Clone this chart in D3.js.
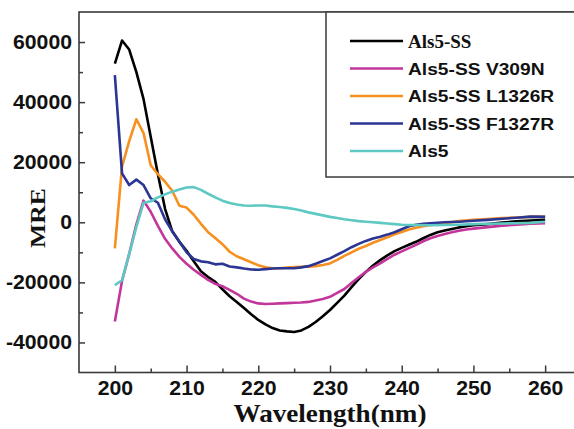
<!DOCTYPE html>
<html><head><meta charset="utf-8">
<script src="https://cdn.jsdelivr.net/npm/d3@7"></script>
<style>html,body{margin:0;padding:0;background:#fff;overflow:hidden}</style>
</head><body>
<svg id="c" width="574" height="429"></svg>
<script>
const seriesNames = ["Als5-SS","Als5-SS V309N","Als5-SS L1326R","Als5-SS F1327R","Als5"];
const seriesColors = ["#000000","#c2369c","#f7901e","#2b3594","#5ec8c3"];

const als5ss = [[200,52800],[201,60500],[202,57500],[203,50000],[204,41000],[205,28500],[206,16000],[207,4500],[208,-3000],[209,-6500],[210,-9500],[211,-13000],[212,-16300],[213,-18200],[214,-19800],[215,-22300],[216,-24600],[217,-26500],[218,-28500],[219,-30600],[220,-32500],[221,-34000],[222,-35200],[223,-36000],[224,-36300],[225,-36500],[226,-36000],[227,-34800],[228,-33200],[229,-31300],[230,-29200],[231,-26800],[232,-24400],[233,-21600],[234,-18900],[235,-16500],[236,-14400],[237,-12600],[238,-11000],[239,-9600],[240,-8500],[241,-7500],[242,-6500],[243,-5300],[244,-4200],[245,-3300],[246,-2700],[247,-2200],[248,-1700],[249,-1300],[250,-1000],[252,-600],[254,-100],[256,300],[258,600],[260,800]];
const v309n = [[200,-33000],[201,-19500],[202,-10500],[203,-700],[204,7200],[205,3500],[206,-1200],[207,-5500],[208,-8700],[209,-11500],[210,-13800],[211,-15800],[212,-17500],[213,-19200],[214,-20500],[215,-21300],[216,-22500],[217,-23800],[218,-25400],[219,-26400],[220,-27000],[221,-27200],[222,-27100],[223,-27000],[224,-26900],[225,-26800],[226,-26700],[227,-26500],[228,-26000],[229,-25500],[230,-24800],[231,-23500],[232,-22200],[233,-20200],[234,-18300],[235,-16500],[236,-15000],[237,-13700],[238,-12200],[239,-10800],[240,-9700],[241,-8600],[242,-7500],[243,-6300],[244,-5300],[245,-4600],[246,-3900],[247,-3300],[248,-2800],[249,-2400],[250,-2100],[252,-1600],[254,-1100],[256,-800],[258,-500],[260,-300]];
const l1326r = [[200,-8700],[201,18500],[202,27000],[203,34300],[204,29700],[205,19000],[206,16000],[207,13500],[208,10500],[209,5500],[210,4900],[211,2500],[212,-500],[213,-3300],[214,-5200],[215,-7300],[216,-9800],[217,-11300],[218,-12300],[219,-13300],[220,-14300],[221,-15000],[222,-15300],[223,-15300],[224,-15100],[225,-14900],[226,-14800],[227,-14800],[228,-14600],[229,-14200],[230,-13700],[231,-12500],[232,-11200],[233,-10000],[234,-8800],[235,-7900],[236,-6800],[237,-5900],[238,-5000],[239,-4000],[240,-3200],[241,-2400],[242,-1800],[243,-1300],[244,-900],[246,-300],[248,400],[250,800],[252,1100],[254,1400],[256,1600],[258,1800],[260,1900]];
const f1327r = [[200,49000],[201,16300],[202,12400],[203,14200],[204,12400],[205,8000],[206,6500],[207,1000],[208,-3000],[209,-6500],[210,-10000],[211,-12200],[212,-13000],[213,-13300],[214,-14000],[215,-13800],[216,-14700],[217,-15000],[218,-15400],[219,-15700],[220,-15800],[221,-15600],[222,-15400],[223,-15300],[224,-15300],[225,-15300],[226,-15000],[227,-14600],[228,-13800],[229,-12900],[230,-12000],[231,-10800],[232,-9600],[233,-8300],[234,-7200],[235,-6200],[236,-5400],[237,-4800],[238,-4100],[239,-3300],[240,-2300],[241,-1300],[242,-800],[243,-500],[244,-300],[246,0],[248,200],[250,500],[252,800],[254,1200],[256,1500],[258,1900],[260,1800]];
const als5 = [[200,-20900],[201,-19300],[202,-10600],[203,-1500],[204,6500],[205,7000],[206,8300],[207,9300],[208,10200],[209,10900],[210,11600],[211,11700],[212,10800],[213,9500],[214,8300],[215,7200],[216,6400],[217,5900],[218,5600],[219,5500],[220,5600],[221,5600],[222,5300],[223,5100],[224,4800],[225,4400],[226,3900],[227,3300],[228,2800],[229,2300],[230,1800],[231,1400],[232,1000],[233,700],[234,400],[235,200],[236,0],[237,-200],[238,-400],[239,-600],[240,-800],[241,-900],[242,-900],[244,-1000],[246,-900],[248,-800],[250,-600],[252,-500],[254,-400],[256,-300],[258,-200],[260,200]];
const seriesData = [als5ss, v309n, l1326r, f1327r, als5];

const xMajorTicks = [200,210,220,230,240,250,260];
const xMinorTicks = [205,215,225,235,245,255];
const yMajorTicks = [-40000,-20000,0,20000,40000,60000];
const yMinorTicks = [-30000,-10000,10000,30000,50000];

const L = 79, T = 12, R = 581, B = 372.5;
const svg = d3.select("#c");
const x = d3.scaleLinear().domain([195,265]).range([L,R]);
const y = d3.scaleLinear().domain([-50000,70000]).range([B,T]);
const sx = 1.09;

// frame
svg.append("rect").attr("x",L).attr("y",T).attr("width",R-L).attr("height",B-T)
  .attr("fill","none").attr("stroke","#3a3a3a").attr("stroke-width",1.6);

function styleAxis(g){
  g.select(".domain").remove();
  g.selectAll("line").attr("stroke","#3a3a3a").attr("stroke-width",1.5);
  g.selectAll("text").attr("font-family","'Liberation Sans', Arial, sans-serif")
    .attr("font-weight","bold").attr("font-size","19.5px").attr("fill","#111");
}
// x axis
const gx = svg.append("g").attr("transform",`translate(0,${B})`)
  .call(d3.axisBottom(x).tickValues(xMajorTicks).tickSizeInner(-7).tickSizeOuter(0).tickPadding(8.5));
styleAxis(gx);
gx.selectAll("text").attr("transform",`scale(${sx},1)`);
const gxm = svg.append("g").attr("transform",`translate(0,${B})`)
  .call(d3.axisBottom(x).tickValues(xMinorTicks).tickSizeInner(-4).tickSizeOuter(0).tickFormat(""));
styleAxis(gxm);
// y axis
const gy = svg.append("g").attr("transform",`translate(${L},0)`)
  .call(d3.axisLeft(y).tickValues(yMajorTicks).tickSizeInner(-6).tickSizeOuter(0).tickPadding(7).tickFormat(d => String(d)));
styleAxis(gy);
gy.selectAll("text").attr("x",-7/sx).attr("transform",`scale(${sx},1)`);
const gym = svg.append("g").attr("transform",`translate(${L},0)`)
  .call(d3.axisLeft(y).tickValues(yMinorTicks).tickSizeInner(-4).tickSizeOuter(0).tickFormat(""));
styleAxis(gym);

// lines
const line = d3.line().x(d=>x(d[0])).y(d=>y(d[1]));
seriesData.forEach((s,i)=>{
  svg.append("path").datum(s).attr("d",line).attr("fill","none")
    .attr("stroke",seriesColors[i]).attr("stroke-width",2.6).attr("stroke-linejoin","round");
});

// axis titles
svg.append("text").attr("transform",`translate(45,218) rotate(-90)`)
  .attr("text-anchor","middle").attr("font-family","'Liberation Serif', 'Times New Roman', serif")
  .attr("font-weight","bold").attr("font-size","22px").attr("fill","#111")
  .attr("textLength",60).attr("lengthAdjust","spacingAndGlyphs").text("MRE");
svg.append("text").attr("x",330).attr("y",422)
  .attr("text-anchor","middle").attr("font-family","'Liberation Serif', 'Times New Roman', serif")
  .attr("font-weight","bold").attr("font-size","26px").attr("fill","#111")
  .attr("textLength",193).attr("lengthAdjust","spacingAndGlyphs").text("Wavelength(nm)");

// legend
svg.append("rect").attr("x",326).attr("y",T).attr("width",300).attr("height",177-T)
  .attr("fill","#fff").attr("stroke","#3a3a3a").attr("stroke-width",1.5);
seriesNames.forEach((n,i)=>{
  const ly = 41 + i*27.5;
  svg.append("line").attr("x1",350).attr("x2",403).attr("y1",ly).attr("y2",ly)
    .attr("stroke",seriesColors[i]).attr("stroke-width",2.6);
  const t = svg.append("text").attr("font-weight","bold").attr("fill","#111").text(n);
  if(i===0){
    t.attr("x",408).attr("y",ly+6.5).attr("font-family","'Liberation Serif', 'Times New Roman', serif").attr("font-size","19px");
  } else {
    t.attr("transform",`translate(408,${ly+6.3}) scale(1.13,1)`)
     .attr("font-family","'Liberation Sans', Arial, sans-serif").attr("font-size","17px");
  }
});
</script>
</body></html>
